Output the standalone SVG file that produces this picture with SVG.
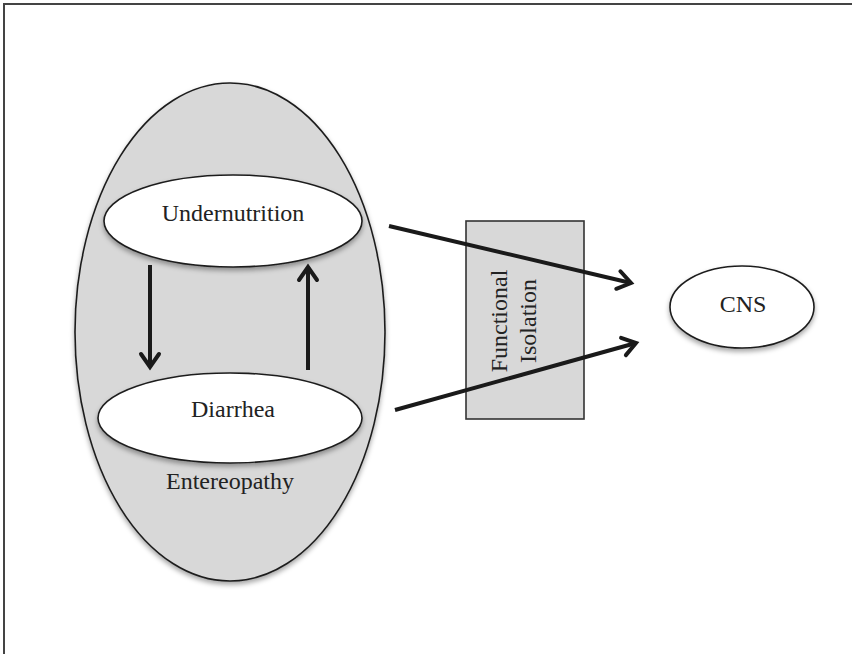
<svg xmlns="http://www.w3.org/2000/svg" width="852" height="654" viewBox="0 0 852 654">
<defs>
<filter id="sh" x="-20%" y="-20%" width="140%" height="150%">
<feDropShadow dx="0" dy="3" stdDeviation="2.5" flood-color="#000" flood-opacity="0.35"/>
</filter>
<marker id="ah" markerUnits="userSpaceOnUse" viewBox="-20 -15 25 30" refX="0" refY="0" markerWidth="25" markerHeight="30" orient="auto" overflow="visible">
<path d="M-13,-9 L0,0 L-13,9" fill="none" stroke="#1a1a1a" stroke-width="4" stroke-linejoin="miter" stroke-linecap="round"/>
</marker>
</defs>
<style>
.lbl{font-family:"Liberation Serif","Times New Roman",serif;font-size:24px;fill:#222;text-anchor:middle}
.node{fill:#fff;stroke:#1e1e1e;stroke-width:1.6}
.conn{stroke:#1a1a1a;stroke-width:4;fill:none;marker-end:url(#ah)}
</style>
<rect width="852" height="654" fill="#fff"/>
<path d="M4,654 V4 H852" fill="none" stroke="#444" stroke-width="2"/>
<g id="entereopathy">
<ellipse cx="230" cy="332" rx="155" ry="249" fill="#d8d8d8" stroke="#1e1e1e" stroke-width="1.6" filter="url(#sh)"/>
<text class="lbl" x="230" y="489">Entereopathy</text>
</g>
<g id="undernutrition">
<ellipse class="node" cx="233" cy="221" rx="129" ry="46" filter="url(#sh)"/>
<text class="lbl" x="233" y="221">Undernutrition</text>
</g>
<g id="diarrhea">
<ellipse class="node" cx="230" cy="418" rx="132" ry="45" filter="url(#sh)"/>
<text class="lbl" x="233" y="417">Diarrhea</text>
</g>
<g id="isolation">
<rect x="466" y="221" width="118" height="198" fill="#d8d8d8" stroke="#333" stroke-width="1.6"/>
<text class="lbl" transform="translate(507,321) rotate(-90)">Functional</text>
<text class="lbl" transform="translate(536,321) rotate(-90)">Isolation</text>
</g>
<g id="cns">
<ellipse class="node" cx="742" cy="307" rx="72" ry="41" filter="url(#sh)"/>
<text class="lbl" x="743" y="312">CNS</text>
</g>
<g id="connectors">
<line class="conn" x1="150" y1="265" x2="150" y2="367"/>
<line class="conn" x1="308" y1="370" x2="308" y2="267"/>
<line class="conn" x1="389" y1="226" x2="631" y2="283"/>
<line class="conn" x1="395" y1="410" x2="636" y2="343"/>
</g>
</svg>
